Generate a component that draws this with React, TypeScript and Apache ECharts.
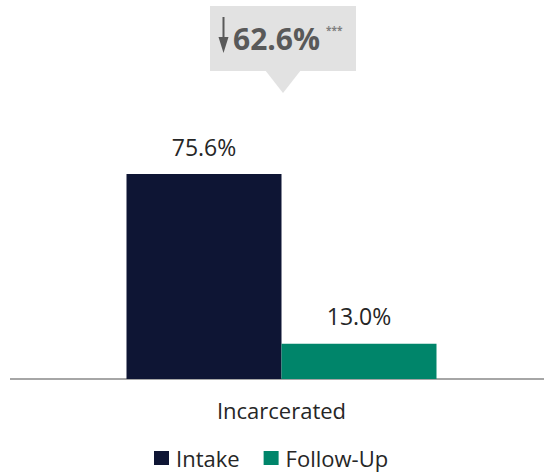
import React, { useEffect, useRef } from "react";
import * as echarts from "echarts";

const categories = ["Incarcerated"];
const intakeValues = [75.6];
const followUpValues = [13.0];
const seriesNames = ["Intake", "Follow-Up"];
const changeText = "62.6%";
const significance = "***";

export default function App() {
  const ref = useRef<HTMLDivElement>(null);
  useEffect(() => {
    if (!ref.current) return;
    const chart = echarts.init(ref.current, undefined, { renderer: "svg" });
    const font = "'Open Sans', sans-serif";
    const labelCfg = {
      show: true,
      position: "top",
      distance: 16,
      color: "#262626",
      fontFamily: font,
      fontSize: 23,
      formatter: (p: any) => Number(p.value).toFixed(1) + "%",
    };
    chart.setOption({
      animation: false,
      grid: { left: 19, right: 0, top: 108, bottom: 93, containLabel: false },
      xAxis: {
        type: "category",
        data: categories,
        axisLine: { lineStyle: { color: "#a6a6a6", width: 2 } },
        axisTick: { show: false },
        axisLabel: { color: "#262626", fontFamily: font, fontSize: 22, margin: 20 },
      },
      yAxis: {
        type: "value",
        min: 0,
        max: 100,
        show: false,
        splitLine: { show: false },
      },
      legend: {
        top: 447,
        left: 154,
        padding: 0,
        itemWidth: 15,
        itemHeight: 14,
        itemGap: 24,
        icon: "rect",
        textStyle: {
          color: "#262626",
          fontFamily: font,
          fontSize: 22,
          lineHeight: 20,
          padding: [0, 0, 0, 2],
        },
        data: seriesNames,
      },
      series: [
        {
          name: seriesNames[0],
          type: "bar",
          data: intakeValues,
          barWidth: 155,
          barGap: "0%",
          itemStyle: { color: "#0e1534" },
          label: labelCfg,
        },
        {
          name: seriesNames[1],
          type: "bar",
          data: followUpValues,
          barWidth: 155,
          barGap: "0%",
          itemStyle: { color: "#00856a" },
          label: labelCfg,
        },
      ],
      graphic: [
        {
          type: "line",
          shape: { x1: 10, y1: 379, x2: 20, y2: 379 },
          style: { stroke: "#a6a6a6", lineWidth: 2 },
        },
        { type: "rect", shape: { x: 210, y: 6, width: 146, height: 65 }, style: { fill: "#e2e2e2" } },
        {
          type: "polygon",
          shape: { points: [[265, 70], [301, 70], [283, 93]] },
          style: { fill: "#e2e2e2" },
        },
        {
          type: "line",
          shape: { x1: 223.5, y1: 17, x2: 223.5, y2: 48 },
          style: { stroke: "#595959", lineWidth: 2 },
        },
        {
          type: "polygon",
          shape: { points: [[218.5, 37], [228.5, 37], [223.5, 53]] },
          style: { fill: "#595959" },
        },
        {
          type: "text",
          x: 233,
          y: 38,
          style: {
            text: changeText,
            fill: "#595959",
            font: "bold 30px 'Open Sans', sans-serif",
            verticalAlign: "middle",
          },
        },
        {
          type: "text",
          x: 326,
          y: 30,
          style: {
            text: significance,
            fill: "#7f7f7f",
            font: "bold 10px 'Open Sans', sans-serif",
            verticalAlign: "middle",
          },
        },
      ],
    });
    return () => chart.dispose();
  }, []);
  return (
    <div
      ref={ref}
      style={{ position: "absolute", left: 0, top: 0, width: 544, height: 472, background: "#fff" }}
    />
  );
}
